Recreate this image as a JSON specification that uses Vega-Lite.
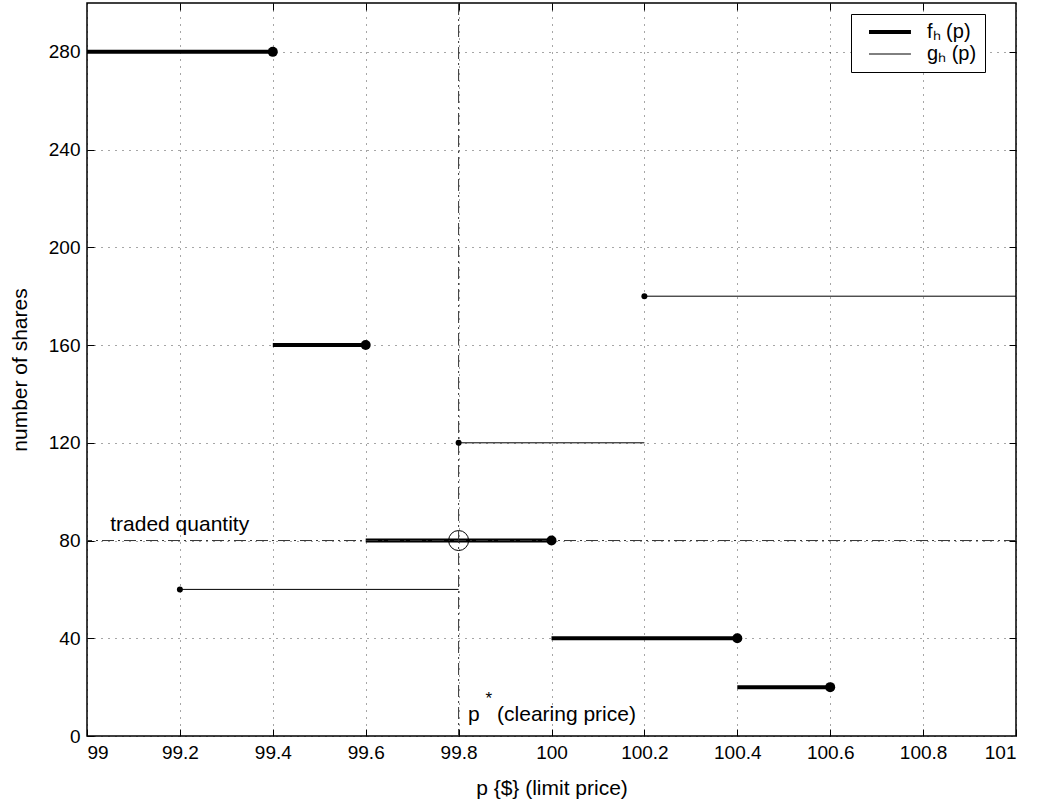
{
  "$schema": "https://vega.github.io/schema/vega-lite/v6.json",
  "width": 929,
  "height": 733,
  "autosize": {"type": "none"},
  "padding": {"left": 87, "top": 3, "right": 23, "bottom": 74},
  "background": "white",
  "resolve": {"axis": {"x": "independent", "y": "independent"}},
  "config": {
    "font": "Liberation Sans",
    "view": {"stroke": "black", "strokeWidth": 1.5},
    "axis": {
      "domain": false,
      "grid": true,
      "gridColor": "black",
      "gridDash": [1, 6],
      "gridOpacity": 0.7,
      "tickColor": "black",
      "tickSize": -7,
      "labelFont": "Liberation Sans",
      "labelFontSize": 19,
      "labelColor": "black",
      "titleFont": "Liberation Sans",
      "titleFontSize": 21,
      "titleFontWeight": "normal",
      "titleColor": "black"
    }
  },
  "datasets": {
    "segs": [
      {"p0": 99.0, "p1": 99.4, "q": 280, "series": "f"},
      {"p0": 99.4, "p1": 99.6, "q": 160, "series": "f"},
      {"p0": 99.6, "p1": 100.0, "q": 80, "series": "f"},
      {"p0": 100.0, "p1": 100.4, "q": 40, "series": "f"},
      {"p0": 100.4, "p1": 100.6, "q": 20, "series": "f"},
      {"p0": 99.2, "p1": 99.8, "q": 60, "series": "g"},
      {"p0": 99.8, "p1": 100.2, "q": 120, "series": "g"},
      {"p0": 100.2, "p1": 101.0, "q": 180, "series": "g"}
    ],
    "dots": [
      {"p": 99.4, "q": 280, "series": "f"},
      {"p": 99.6, "q": 160, "series": "f"},
      {"p": 100.0, "q": 80, "series": "f"},
      {"p": 100.4, "q": 40, "series": "f"},
      {"p": 100.6, "q": 20, "series": "f"},
      {"p": 99.2, "q": 60, "series": "g"},
      {"p": 99.8, "q": 120, "series": "g"},
      {"p": 100.2, "q": 180, "series": "g"}
    ]
  },
  "layer": [
    {
      "data": {"name": "segs"},
      "mark": {"type": "rule", "color": "black", "strokeCap": "butt"},
      "encoding": {
        "x": {"field": "p0", "type": "quantitative", "scale": {"domain": [99, 101], "nice": false, "zero": false}, "axis": {"values": [99, 99.2, 99.4, 99.6, 99.8, 100, 100.2, 100.4, 100.6, 100.8, 101], "format": "~g", "title": "p {$} (limit price)", "labelPadding": 14, "titlePadding": 15}},
        "x2": {"field": "p1"},
        "y": {"field": "q", "type": "quantitative", "scale": {"domain": [0, 300], "nice": false}, "axis": {"values": [0, 40, 80, 120, 160, 200, 240, 280], "title": "number of shares", "labelPadding": 14, "titlePadding": 18}},
        "strokeWidth": {
          "field": "series", "type": "ordinal",
          "scale": {"domain": ["f", "g"], "range": [4, 1]},
          "legend": {
            "title": null,
            "orient": "none",
            "legendX": 764,
            "legendY": 11,
            "strokeColor": "black",
            "fillColor": "white",
            "padding": 8,
            "symbolType": "M0,0H8",
            "symbolSize": 110,
            "symbolStrokeColor": "black",
            "labelFontSize": 20,
            "labelFont": "Liberation Sans",
            "labelColor": "black",
            "labelOffset": 48,
            "rowPadding": 2,
            "labelExpr": "datum.value == 'f' ? 'fₕ (p)' : 'gₕ (p)'"
          }
        }
      }
    },
    {
      "data": {"values": [{"p": 99.8}]},
      "mark": {"type": "rule", "color": "#333", "strokeWidth": 1, "strokeDash": [12, 4, 2, 4]},
      "encoding": {
        "x": {"field": "p", "type": "quantitative", "axis": {"orient": "top", "values": [99.2, 99.4, 99.6, 99.8, 100, 100.2, 100.4, 100.6, 100.8], "labels": false, "grid": false, "ticks": true, "tickSize": -7, "title": null}}
      }
    },
    {
      "data": {"values": [{"q": 80}]},
      "mark": {"type": "rule", "color": "#333", "strokeWidth": 1, "strokeDash": [12, 4, 2, 4]},
      "encoding": {
        "y": {"field": "q", "type": "quantitative", "axis": {"orient": "right", "values": [40, 80, 120, 160, 200, 240, 280], "labels": false, "grid": false, "ticks": true, "tickSize": -7, "title": null}}
      }
    },
    {
      "data": {"name": "dots"},
      "transform": [{"filter": "datum.series == 'f'"}],
      "mark": {"type": "point", "shape": "circle", "filled": true, "color": "black", "opacity": 1, "size": 100},
      "encoding": {
        "x": {"field": "p", "type": "quantitative", "axis": null},
        "y": {"field": "q", "type": "quantitative", "axis": null}
      }
    },
    {
      "data": {"name": "dots"},
      "transform": [{"filter": "datum.series == 'g'"}],
      "mark": {"type": "point", "shape": "circle", "filled": true, "color": "black", "opacity": 1, "size": 36},
      "encoding": {
        "x": {"field": "p", "type": "quantitative", "axis": null},
        "y": {"field": "q", "type": "quantitative", "axis": null}
      }
    },
    {
      "data": {"values": [{"p": 99.8, "q": 80}]},
      "mark": {"type": "point", "shape": "circle", "filled": false, "color": "black", "size": 400, "strokeWidth": 1, "opacity": 1},
      "encoding": {
        "x": {"field": "p", "type": "quantitative", "axis": null},
        "y": {"field": "q", "type": "quantitative", "axis": null}
      }
    },
    {
      "data": {"values": [{"p": 99.05, "q": 86.5, "label": "traded quantity"}, {"p": 99.82, "q": 8.4, "label": "p\u00a0\u00a0\u00a0(clearing price)"}]},
      "mark": {"type": "text", "align": "left", "baseline": "middle", "fontSize": 21, "font": "Liberation Sans", "color": "black"},
      "encoding": {
        "x": {"field": "p", "type": "quantitative", "axis": null},
        "y": {"field": "q", "type": "quantitative", "axis": null},
        "text": {"field": "label"}
      }
    },
    {
      "data": {"values": [{"p": 99.858, "q": 15.3, "label": "*"}]},
      "mark": {"type": "text", "align": "left", "baseline": "middle", "fontSize": 17, "font": "Liberation Sans", "color": "black"},
      "encoding": {
        "x": {"field": "p", "type": "quantitative", "axis": null},
        "y": {"field": "q", "type": "quantitative", "axis": null},
        "text": {"field": "label"}
      }
    }
  ]
}
